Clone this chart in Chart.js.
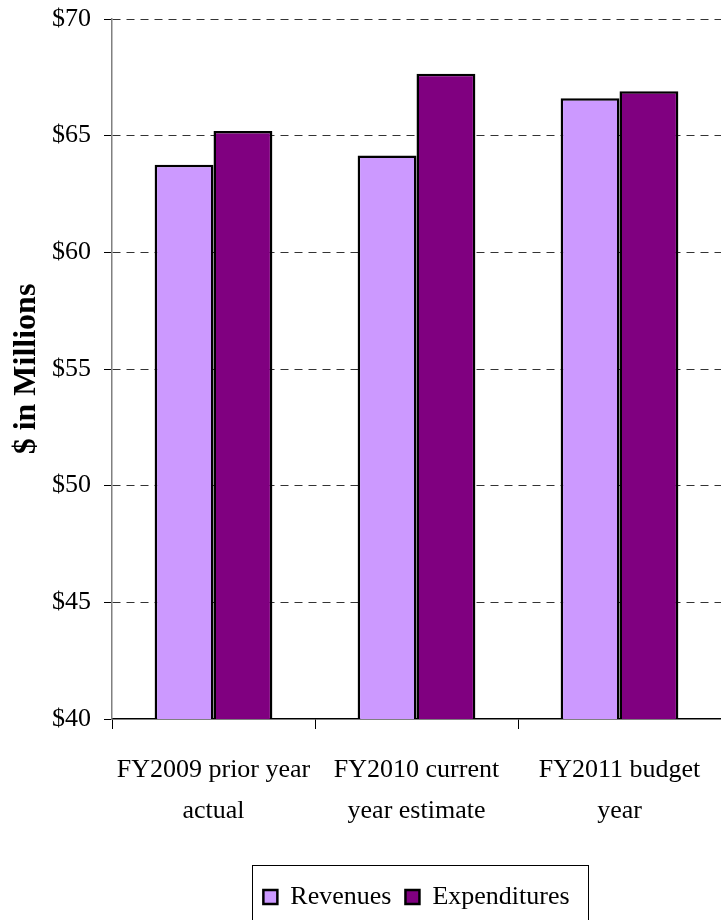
<!DOCTYPE html>
<html>
<head>
<meta charset="utf-8">
<script src="https://cdn.jsdelivr.net/npm/chart.js@4/dist/chart.umd.min.js"></script>
<style>
html,body{margin:0;padding:0;background:#fff;}
#wrap{width:721px;height:920px;position:relative;}
</style>
</head>
<body>
<div id="wrap"><canvas id="c" width="721" height="920"></canvas></div>
<script>
const categories = [['FY2009 prior year', 'actual'], ['FY2010 current', 'year estimate'], ['FY2011 budget', 'year']];
const revenues = [63.75, 64.15, 66.6];
const expenditures = [65.2, 67.65, 66.9];
const seriesNames = ['Revenues', 'Expenditures'];
const yMin = 40, yMax = 70, yStep = 5;

Chart.defaults.font.family = "'Liberation Serif', 'Times New Roman', serif";
Chart.defaults.color = '#000';

const legendBox = {
  id: 'legendBox',
  afterLayout(chart) {
    const lg = chart.legend;
    lg.left = chart.chartArea.left;
    lg.right = chart.chartArea.right;
  },
  afterDraw(chart) {
    const lg = chart.legend;
    const pad = lg.options.labels.padding;
    const lw = lg.lineWidths[0];
    const start = (lg.left + pad + lg.right - lw) / 2;
    const ctx = chart.ctx;
    ctx.save();
    ctx.strokeStyle = '#000';
    ctx.lineWidth = 1;
    ctx.strokeRect(Math.round(start - 11) + 0.5, Math.round(lg.top - 5) + 0.5, Math.round(lw - pad + 30), 80);
    ctx.restore();
  }
};

new Chart(document.getElementById('c'), {
  type: 'bar',
  data: {
    labels: categories,
    datasets: [
      { label: seriesNames[0], data: revenues, backgroundColor: '#CC99FF', borderColor: '#000', borderWidth: 2.5 },
      { label: seriesNames[1], data: expenditures, backgroundColor: '#800080', borderColor: '#000', borderWidth: 2.5 }
    ]
  },
  options: {
    responsive: false,
    animation: false,
    layout: { padding: { top: 19, left: 0, right: 0, bottom: 0 } },
    datasets: { bar: { categoryPercentage: 0.58, barPercentage: 1.0 } },
    plugins: {
      legend: {
        position: 'bottom',
        labels: { font: { size: 26 }, boxWidth: 14, boxHeight: 14, padding: 14, color: '#000' }
      },
      tooltip: { enabled: false }
    },
    scales: {
      x: {
        grid: { offset: true, drawOnChartArea: false, tickLength: 10, color: '#000', lineWidth: 1 },
        border: { color: '#000', width: 1.5 },
        ticks: { font: { size: 26, lineHeight: 1.6 }, padding: 20, maxRotation: 0, autoSkip: false, color: '#000' },
        afterFit(scale) { scale.height = 151; scale.paddingLeft = 0; scale.paddingRight = 0; }
      },
      y: {
        min: yMin, max: yMax,
        ticks: { stepSize: yStep, font: { size: 26 }, padding: 13, color: '#000', callback: v => '$' + v },
        grid: {
          color: ctx => (ctx.tick && ctx.tick.value === yMin) ? 'rgba(0,0,0,0)' : '#333',
          lineWidth: 1,
          tickLength: 8,
          tickColor: '#000',
          tickBorderDash: []
        },
        border: { color: '#808080', width: 1.5, dash: [8, 6] },
        title: { display: true, text: '$ in Millions', font: { size: 32, weight: 'bold' }, color: '#000', padding: { top: 8, bottom: 0 } },
        afterFit(scale) { scale.width = 112; scale.paddingTop = 0; scale.paddingBottom = 0; }
      }
    }
  },
  plugins: [legendBox]
});
</script>
</body>
</html>
